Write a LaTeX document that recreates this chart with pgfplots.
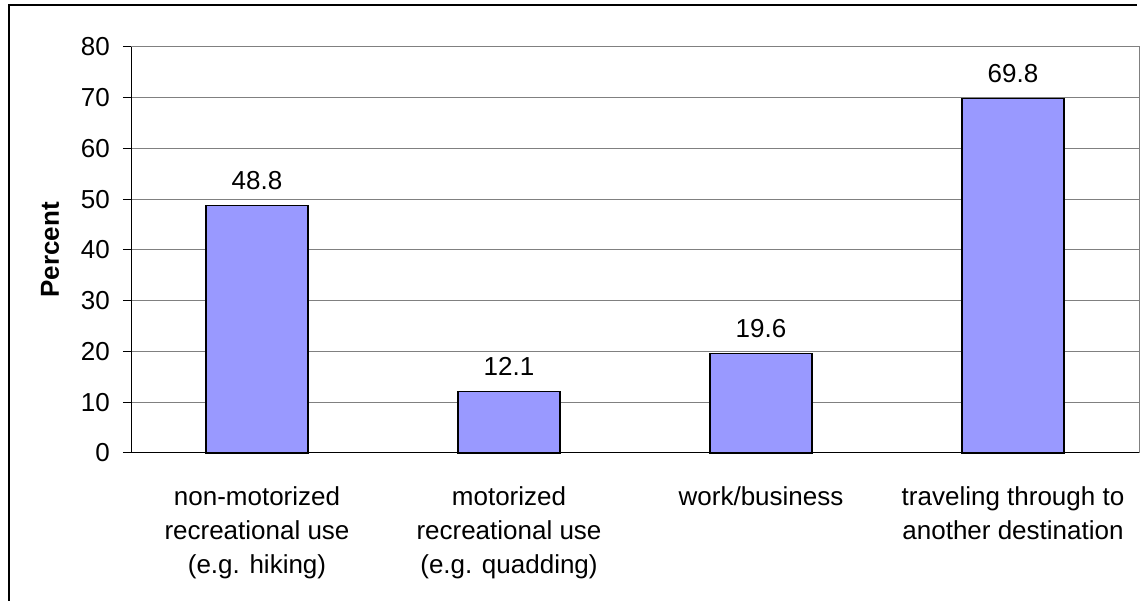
\documentclass[border=0pt]{standalone}
\usepackage{pgfplots}
\pgfplotsset{compat=1.18}
\usepackage{fontspec}
\setmainfont{Liberation Sans}
\definecolor{barfill}{HTML}{9999FF}
\definecolor{gridgray}{HTML}{808080}
\begin{document}
\begin{tikzpicture}[font=\fontsize{26}{34}\selectfont, x=1pt, y=1pt]
\path[use as bounding box] (0,0) rectangle (1146,601);
\draw[line width=2pt] (9,-5) -- (9,596) -- (1137,596);
\begin{axis}[
  at={(131pt,148pt)}, anchor=south west,
  scale only axis, width=1008pt, height=406pt,
  xmin=-0.5, xmax=3.5, ymin=0, ymax=80,
  ytick={0,10,...,80},
  xtick={0,1,2,3},
  xticklabels={{non-motorized\\recreational use\\(e.g. hiking)},
               {motorized\\recreational use\\(e.g. quadding)},
               {work/business},
               {traveling through to\\another destination}},
  xticklabel style={align=center, anchor=north, inner sep=0pt, yshift=-25pt},
  major x tick style={draw=none},
  extra x ticks={-0.5,0.5,1.5,2.5,3.5},
  extra x tick labels={},
  extra x tick style={major tick length=8pt, tick style={black, line width=1pt}, grid=none},
  tick align=outside,
  xtick pos=bottom, ytick pos=left,
  major tick length=8pt,
  tick style={black, line width=1pt},
  yticklabel style={anchor=east, inner sep=0pt, xshift=-13pt},
  ymajorgrids,
  grid style={gridgray, line width=1pt},
  axis line style={gridgray, line width=1pt},
  /pgf/number format/assume math mode=true,
  ylabel={\bfseries Percent},
  every axis y label/.style={at={(axis description cs:-0.0804,0.5)}, rotate=90, anchor=center},
  ybar, bar width=102pt,
  nodes near coords={\pgfmathprintnumber[fixed,fixed zerofill,precision=1]{\pgfplotspointmeta}},
  nodes near coords style={anchor=base, inner sep=0pt, yshift=16pt, black},
  clip=false,
]
\addplot[fill=barfill, draw=black, line width=1.3pt] coordinates {(0,48.8) (1,12.1) (2,19.6) (3,69.8)};
\draw[black, line width=1pt] (rel axis cs:0,1) -- (rel axis cs:0,0) -- (rel axis cs:1,0);
\end{axis}
\end{tikzpicture}
\end{document}
